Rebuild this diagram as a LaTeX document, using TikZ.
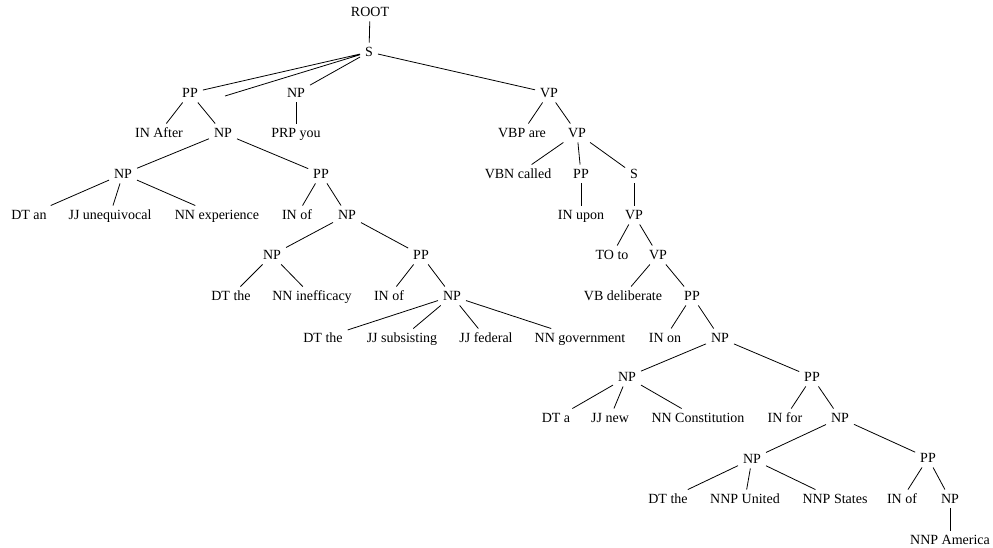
\documentclass[tikz,border=0pt]{standalone}
\usepackage{fontspec}
\setmainfont{Liberation Serif}
\usetikzlibrary{positioning}

\begin{document}
\begin{tikzpicture}[x=0.75pt, y=-0.75pt, line width=0.6pt]
  \tikzstyle{tag} = [inner sep=3.5pt, text height=0.66em, text depth=0pt, font=\fontsize{10.5}{12}\selectfont]
  \useasboundingbox (0,0) rectangle (993,548);

  \node [tag] (root) at (370,12) {ROOT};
  \node [tag] (s) at (369,52) {S};
  \node [tag] (pp1) at (190,93) {PP};
  \coordinate (comma) at (225,96);
  \node [tag] (np1) at (296,93) {NP};
  \node [tag] (vp1) at (549,93) {VP};
  \node [tag] (inafter) at (159,133) {IN After};
  \node [tag] (np2) at (223,133) {NP};
  \node [tag] (prpyou) at (296,133) {PRP you};
  \node [tag] (vbpare) at (522,133) {VBP are};
  \node [tag] (vp2) at (577,133) {VP};
  \node [tag] (np3) at (123,174) {NP};
  \node [tag] (pp2) at (321,174) {PP};
  \node [tag] (vbncalled) at (518,174) {VBN called};
  \node [tag] (pp3) at (581,174) {PP};
  \node [tag] (s2) at (634,174) {S};
  \node [tag] (dtan) at (29,215) {DT an};
  \node [tag] (jjuneq) at (110,215) {JJ unequivocal};
  \node [tag] (nnexp) at (217,215) {NN experience};
  \node [tag] (inof1) at (297,215) {IN of};
  \node [tag] (np4) at (347,215) {NP};
  \node [tag] (inupon) at (581,215) {IN upon};
  \node [tag] (vp3) at (634,215) {VP};
  \node [tag] (np5) at (272,255) {NP};
  \node [tag] (pp4) at (421,255) {PP};
  \node [tag] (toto) at (612,255) {TO to};
  \node [tag] (vp4) at (658,255) {VP};
  \node [tag] (dtthe1) at (231,296) {DT the};
  \node [tag] (nnineff) at (312,296) {NN inefficacy};
  \node [tag] (inof2) at (389,296) {IN of};
  \node [tag] (np6) at (452,296) {NP};
  \node [tag] (vbdelib) at (623,296) {VB deliberate};
  \node [tag] (pp5) at (692,296) {PP};
  \node [tag] (dtthe2) at (323,338) {DT the};
  \node [tag] (jjsubs) at (402,338) {JJ subsisting};
  \node [tag] (jjfed) at (486,338) {JJ federal};
  \node [tag] (nngov) at (580,338) {NN government};
  \node [tag] (inon) at (665,338) {IN on};
  \node [tag] (np7) at (720,338) {NP};
  \node [tag] (np8) at (627,377) {NP};
  \node [tag] (pp6) at (812,377) {PP};
  \node [tag] (dta) at (556,418) {DT a};
  \node [tag] (jjnew) at (610,418) {JJ new};
  \node [tag] (nnconst) at (698,418) {NN Constitution};
  \node [tag] (infor) at (785,418) {IN for};
  \node [tag] (np9) at (840,418) {NP};
  \node [tag] (np10) at (752,459) {NP};
  \node [tag] (pp7) at (928,458) {PP};
  \node [tag] (dtthe3) at (668,499) {DT the};
  \node [tag] (nnpunited) at (745,499) {NNP United};
  \node [tag] (nnpstates) at (835,499) {NNP States};
  \node [tag] (inof3) at (902,499) {IN of};
  \node [tag] (np11) at (950,499) {NP};
  \node [tag] (nnpamerica) at (950,540) {NNP America};

  \draw (root) -- (s);
  \draw (s) -- (pp1) (s) -- (comma) (s) -- (np1) (s) -- (vp1);
  \draw (pp1) -- (inafter) (pp1) -- (np2);
  \draw (np1) -- (prpyou);
  \draw (vp1) -- (vbpare) (vp1) -- (vp2);
  \draw (np2) -- (np3) (np2) -- (pp2);
  \draw (vp2) -- (vbncalled) (vp2) -- (pp3) (vp2) -- (s2);
  \draw (np3) -- (dtan) (np3) -- (jjuneq) (np3) -- (nnexp);
  \draw (pp2) -- (inof1) (pp2) -- (np4);
  \draw (pp3) -- (inupon);
  \draw (s2) -- (vp3);
  \draw (np4) -- (np5) (np4) -- (pp4);
  \draw (vp3) -- (toto) (vp3) -- (vp4);
  \draw (np5) -- (dtthe1) (np5) -- (nnineff);
  \draw (pp4) -- (inof2) (pp4) -- (np6);
  \draw (vp4) -- (vbdelib) (vp4) -- (pp5);
  \draw (np6) -- (dtthe2) (np6) -- (jjsubs) (np6) -- (jjfed) (np6) -- (nngov);
  \draw (pp5) -- (inon) (pp5) -- (np7);
  \draw (np7) -- (np8) (np7) -- (pp6);
  \draw (np8) -- (dta) (np8) -- (jjnew) (np8) -- (nnconst);
  \draw (pp6) -- (infor) (pp6) -- (np9);
  \draw (np9) -- (np10) (np9) -- (pp7);
  \draw (np10) -- (dtthe3) (np10) -- (nnpunited) (np10) -- (nnpstates);
  \draw (pp7) -- (inof3) (pp7) -- (np11);
  \draw (np11) -- (nnpamerica);
\end{tikzpicture}
\end{document}
